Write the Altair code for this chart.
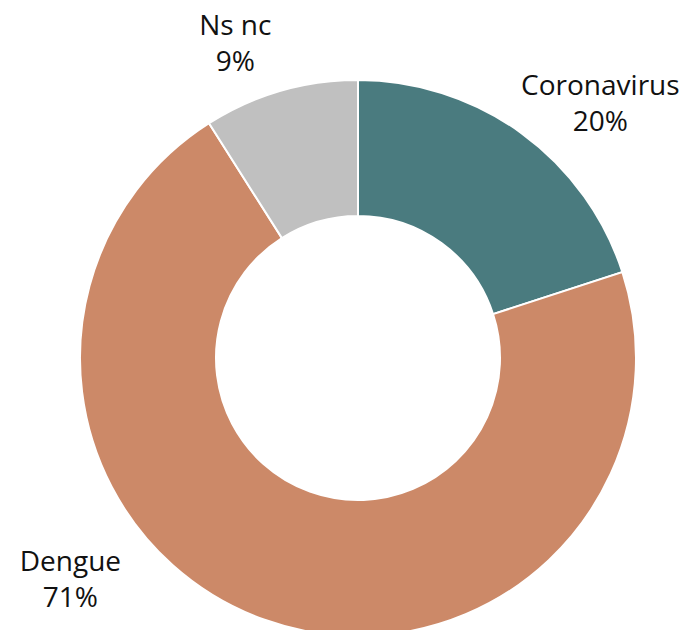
import altair as alt
import pandas as pd

categories = ["Coronavirus", "Dengue", "Ns nc"]
shares = [20, 71, 9]
pct_labels = ["20%", "71%", "9%"]
colors = ["#4a7b7f", "#cc8968", "#c0c0c0"]

df = pd.DataFrame({"cat": categories, "value": shares, "pct": pct_labels,
                   "order": list(range(len(categories)))})

CX, CY = 350, 350
R_OUT, R_IN = 278, 142
R_LAB = 300
LINE = 36

base = alt.Chart(df)

theta_scale = alt.Scale(domain=[0, sum(shares)])

arcs = base.mark_arc(outerRadius=R_OUT, innerRadius=R_IN, stroke="white", strokeWidth=2).encode(
    theta=alt.Theta("value:Q", stack=True, scale=theta_scale),
    order=alt.Order("order:Q"),
    color=alt.Color("cat:N", scale=alt.Scale(domain=categories, range=colors), legend=None),
    x=alt.value(CX), y=alt.value(CY),
)

offsets = {"Coronavirus": (66, -28), "Dengue": (-186, -77), "Ns nc": (-39, -43)}

layers = [arcs]
for c in categories:
    dx, dy = offsets[c]
    src = base.transform_stack(
        stack="value", groupby=[], as_=["v0", "v1"],
        sort=[alt.SortField("order", order="ascending")],
    ).transform_calculate(
        mid="(datum.v0 + datum.v1) / 2"
    ).transform_filter(alt.datum.cat == c)
    for field, off in (("cat", 0), ("pct", LINE)):
        t = src.mark_text(font="Open Sans", fontSize=28,
                          align="center", baseline="middle", color="#111111",
                          radius=R_LAB, dx=dx, dy=dy + off).encode(
            theta=alt.Theta("mid:Q", stack=None, scale=theta_scale),
            text=f"{field}:N",
            x=alt.value(CX), y=alt.value(CY),
        )
        layers.append(t)

chart = alt.layer(*layers).properties(
    width=672, height=622, padding=0,
    autosize=alt.AutoSizeParams(type="none"),
).configure_view(stroke=None)

chart.save("out.html", embed_options={"renderer": "svg", "actions": False})
